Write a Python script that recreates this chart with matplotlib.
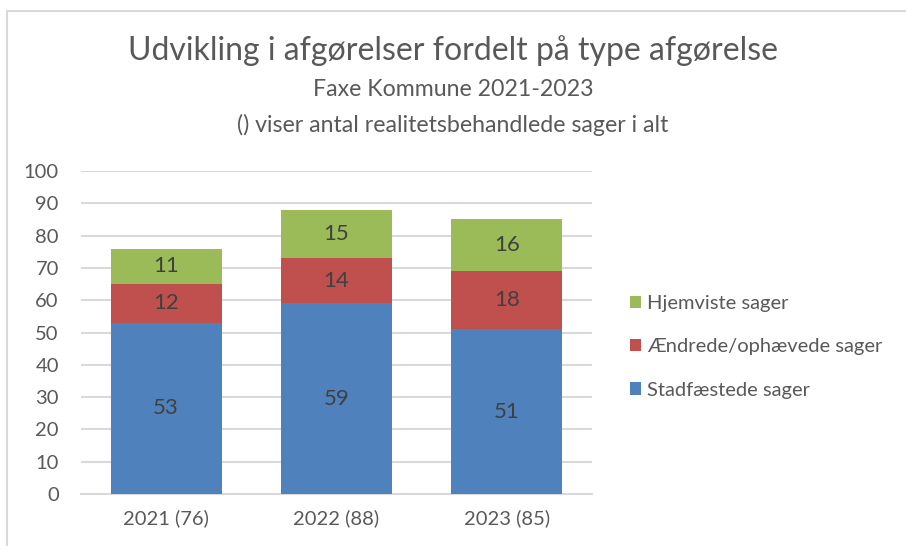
import numpy as np
import matplotlib.pyplot as plt
from matplotlib.patches import Rectangle

# Data
categories = ['2021 (76)', '2022 (88)', '2023 (85)']
stadfaestede = [53, 59, 51]
aendrede = [12, 14, 18]
hjemviste = [11, 15, 16]

plt.rcParams['font.family'] = ['Lato', 'DejaVu Sans']

fig = plt.figure(figsize=(9.06, 5.46), dpi=100)
ax = fig.add_axes([81 / 906, 1 - 494 / 546, (592 - 81) / 906, (494 - 171) / 546])

x = np.arange(len(categories))
w = 0.65
colors = ['#4F81BD', '#C0504D', '#9BBB59']
names = ['Stadfæstede sager', 'Ændrede/ophævede sager', 'Hjemviste sager']
series = [stadfaestede, aendrede, hjemviste]

bottom = np.zeros(len(categories))
handles = []
for vals, col, name in zip(series, colors, names):
    bars = ax.bar(x, vals, w, bottom=bottom, color=col, label=name, zorder=3)
    handles.append(bars)
    for xi, b, v in zip(x, bottom, vals):
        ax.text(xi, b + v / 2, str(v), ha='center', va='center',
                fontsize=16, color='#404040', zorder=4)
    bottom = bottom + np.array(vals)

ax.set_xlim(-0.5, len(categories) - 0.5)
ax.set_ylim(0, 100)
ax.set_yticks(range(0, 101, 10))
ax.set_xticks(x)
ax.set_xticklabels(categories)
ax.yaxis.grid(True, color='#D9D9D9', linewidth=1.5, zorder=0)
ax.tick_params(axis='both', length=0, labelsize=14.5, colors='#595959')
ax.tick_params(axis='x', pad=11)
ax.tick_params(axis='y', pad=16)
for s in ['top', 'right', 'left']:
    ax.spines[s].set_visible(False)
ax.spines['bottom'].set_color('#D9D9D9')
ax.spines['bottom'].set_linewidth(1.5)

# legend (reverse order, like Excel)
leg = fig.legend(handles[::-1], names[::-1], loc='center left',
                 bbox_to_anchor=(612 / 906, 1 - 347 / 546), frameon=False,
                 fontsize=14.5, handlelength=0.55, handleheight=0.55,
                 handletextpad=0.3, labelspacing=1.3, labelcolor='#595959')

fig.text(0.5, 1 - 51 / 546, 'Udvikling i afgørelser fordelt på type afgørelse',
         ha='center', va='center', fontsize=23, color='#595959')
fig.text(0.5, 1 - 90 / 546, 'Faxe Kommune 2021-2023',
         ha='center', va='center', fontsize=16.7, color='#595959')
fig.text(0.5, 1 - 125 / 546, '() viser antal realitetsbehandlede sager i alt',
         ha='center', va='center', fontsize=16.7, color='#595959')

# chart border (cropped on right and bottom)
fig.patches.append(Rectangle((7 / 906, -0.1), 1.2, 1 - 11 / 546 + 0.1,
                             transform=fig.transFigure, fill=False,
                             edgecolor='#D9D9D9', linewidth=1.5))

fig.savefig('out.png', dpi=100)
